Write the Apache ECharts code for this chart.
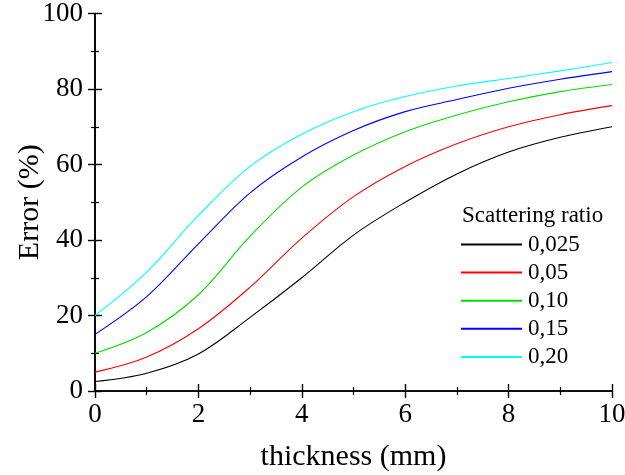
<!DOCTYPE html>
<html>
<head>
<meta charset="utf-8">
<script src="https://cdn.jsdelivr.net/npm/echarts@6/dist/echarts.min.js"></script>
<style>
html, body { margin: 0; padding: 0; background: #fff; }
#chart { width: 625px; height: 475px; }
</style>
</head>
<body>
<div id="chart"></div>
<script>
// Thickness samples (mm)
var thickness = [0, 1, 2, 3, 4, 5, 6, 7, 8, 9, 10];

// Error (%) for each scattering ratio
var err0025 = [2.5, 4.7, 9.8, 19.5, 30.0, 41.3, 50.0, 57.5, 63.3, 67.2, 70.0];
var err005  = [5.0, 9.0, 16.5, 27.5, 40.5, 51.5, 59.5, 65.5, 70.0, 73.2, 75.6];
var err010  = [10.0, 15.5, 25.5, 41.0, 54.0, 62.5, 68.7, 73.1, 76.6, 79.3, 81.2];
var err015  = [15.0, 25.0, 39.0, 52.5, 62.0, 69.0, 74.0, 77.2, 80.2, 82.6, 84.6];
var err020  = [20.0, 31.5, 46.5, 59.5, 68.0, 74.0, 78.0, 80.8, 82.8, 84.8, 87.0];

var seriesNames  = ['0,025', '0,05', '0,10', '0,15', '0,20'];
var seriesValues = [err0025, err005, err010, err015, err020];
var seriesColors = ['#000000', '#ff0000', '#00dd00', '#0000ff', '#00ffff'];

var xTicks = [0, 2, 4, 6, 8, 10];
var yTicks = [0, 20, 40, 60, 80, 100];

var FONT = '"Liberation Serif", "Times New Roman", serif';

function pairs(xs, ys) {
  return xs.map(function (x, i) { return [x, ys[i]]; });
}

var chart = echarts.init(document.getElementById('chart'), null, { renderer: 'canvas' });

var axisLine = { show: true, lineStyle: { color: '#000', width: 1.6 } };
var majorTick = { show: true, inside: false, length: 7, lineStyle: { color: '#000', width: 1.4 } };
var minorTick = { show: true, splitNumber: 2, length: 4, lineStyle: { color: '#000', width: 1.2 } };

var option = {
  backgroundColor: '#ffffff',
  animation: false,
  title: {
    text: 'Scattering ratio',
    left: 462,
    top: 204,
    padding: 0,
    textStyle: { fontFamily: FONT, fontSize: 23, fontWeight: 'normal', color: '#000' }
  },
  legend: {
    orient: 'vertical',
    left: 461,
    top: 233,
    padding: 0,
    icon: 'rect',
    itemWidth: 61,
    itemHeight: 2,
    itemGap: 5.1,
    data: seriesNames,
    textStyle: { fontFamily: FONT, fontSize: 23, color: '#000', lineHeight: 23, padding: [0, 0, 0, 1] }
  },
  grid: { left: 95, right: 13, top: 13.5, bottom: 84, containLabel: false, outerBoundsMode: 'none' },
  xAxis: [
    {
      type: 'value', min: 0, max: 10, interval: 2,
      name: 'thickness (mm)', nameLocation: 'middle', nameGap: 51, nameMoveOverlap: false,
      nameTextStyle: { fontFamily: FONT, fontSize: 30, color: '#000' },
      axisLine: axisLine, axisTick: majorTick, minorTick: minorTick,
      splitLine: { show: false },
      axisLabel: { fontFamily: FONT, fontSize: 27, color: '#000', margin: 10,
        formatter: function (v) { return xTicks.indexOf(v) >= 0 ? String(v) : ''; } }
    },
    {
      type: 'value', position: 'top', min: 0, max: 10, interval: 2,
      axisLine: axisLine, axisTick: majorTick, minorTick: minorTick,
      splitLine: { show: false }, axisLabel: { show: false }
    }
  ],
  yAxis: [
    {
      type: 'value', min: 0, max: 100, interval: 20,
      name: 'Error (%)', nameLocation: 'middle', nameGap: 50, nameRotate: 90, nameMoveOverlap: false,
      nameTextStyle: { fontFamily: FONT, fontSize: 30, color: '#000' },
      axisLine: axisLine, axisTick: majorTick, minorTick: minorTick,
      splitLine: { show: false },
      axisLabel: { fontFamily: FONT, fontSize: 27, color: '#000', margin: 12,
        formatter: function (v) { return yTicks.indexOf(v) >= 0 ? String(v) : ''; } }
    },
    {
      type: 'value', position: 'right', min: 0, max: 100, interval: 20,
      axisLine: axisLine, axisTick: majorTick, minorTick: minorTick,
      splitLine: { show: false }, axisLabel: { show: false }
    }
  ],
  series: seriesNames.map(function (name, i) {
    return {
      name: name,
      type: 'line',
      xAxisIndex: 0,
      yAxisIndex: 0,
      data: pairs(thickness, seriesValues[i]),
      smooth: 0.35,
      symbol: 'none',
      color: seriesColors[i],
      lineStyle: { color: seriesColors[i], width: 1.1 }
    };
  })
};

chart.setOption(option);
</script>
</body>
</html>
